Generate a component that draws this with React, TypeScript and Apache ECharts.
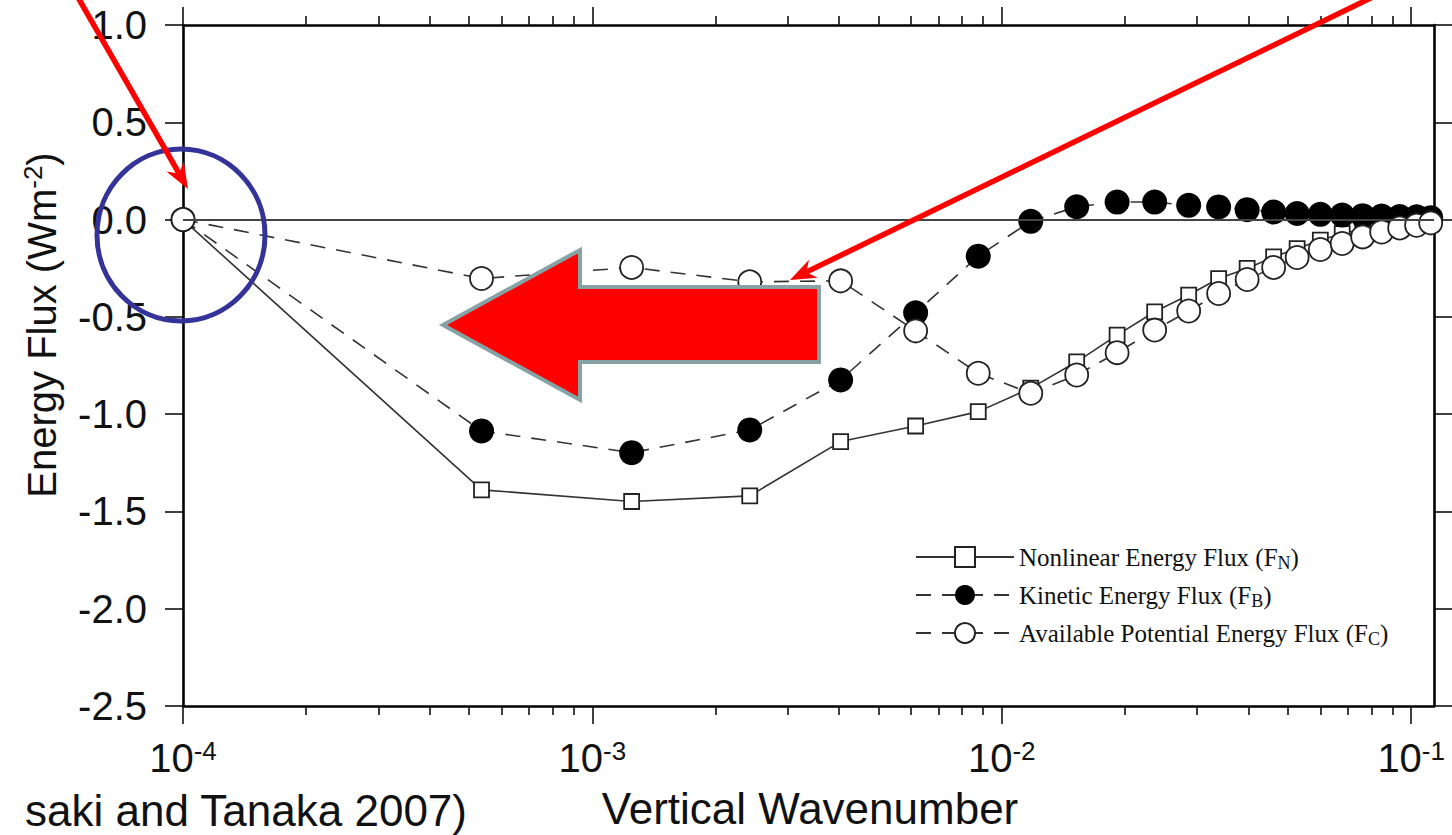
import React, { useEffect, useRef } from 'react';
import * as echarts from 'echarts';

// ---- data ----
const wavenumber = [
  1.0e-4, 5.36e-4, 1.247e-3, 2.423e-3, 4.04e-3, 6.16e-3, 8.76e-3, 1.177e-2,
  1.524e-2, 1.913e-2, 2.363e-2, 2.861e-2, 3.386e-2, 3.975e-2, 4.614e-2, 5.266e-2,
  6.0e-2, 6.785e-2, 7.612e-2, 8.47e-2, 9.374e-2, 1.031e-1, 1.116e-1,
];
const fluxN = [
  0, -1.389, -1.449, -1.42, -1.141, -1.061, -0.987, -0.866,
  -0.731, -0.594, -0.474, -0.388, -0.303, -0.251, -0.192, -0.149,
  -0.106, -0.072, -0.05, -0.034, -0.025, -0.018, -0.012,
];
const fluxB = [
  0, -1.086, -1.198, -1.081, -0.824, -0.479, -0.188, -0.009,
  0.066, 0.09, 0.09, 0.073, 0.065, 0.051, 0.039, 0.031,
  0.027, 0.023, 0.02, 0.018, 0.016, 0.014, 0.01,
];
const fluxC = [
  0, -0.303, -0.246, -0.32, -0.315, -0.572, -0.79, -0.893,
  -0.799, -0.684, -0.568, -0.47, -0.38, -0.308, -0.246, -0.195,
  -0.154, -0.123, -0.089, -0.064, -0.043, -0.029, -0.017,
];
const seriesNames = [
  'Nonlinear Energy Flux (FN)',
  'Kinetic Energy Flux (FB)',
  'Available Potential Energy Flux (FC)',
];
const legendLabels = [
  'Nonlinear Energy Flux (F{s|N})',
  'Kinetic Energy Flux (F{s|B})',
  'Available Potential Energy Flux (F{s|C})',
];
const majorTicks = [1e-4, 1e-3, 1e-2, 1e-1];
const minorTicks = [
  2e-4, 3e-4, 4e-4, 5e-4, 6e-4, 7e-4, 8e-4, 9e-4,
  2e-3, 3e-3, 4e-3, 5e-3, 6e-3, 7e-3, 8e-3, 9e-3,
  2e-2, 3e-2, 4e-2, 5e-2, 6e-2, 7e-2, 8e-2, 9e-2,
];
const xMin = 1e-4;
const xMax = 0.1137;
const yMin = -2.5;
const yMax = 1.0;
const yStep = 0.5;

const SANS = 'Liberation Sans, Arial, sans-serif';
const SERIF = 'Liberation Serif, Times New Roman, serif';

function xAxisDef(position: 'top' | 'bottom', ticks: number[], len: number, showLine: boolean, showLabel: boolean) {
  return {
    type: 'log',
    logBase: 10,
    position,
    min: xMin,
    max: xMax,
    axisLine: { show: showLine, onZero: false, lineStyle: { color: '#000', width: 2.6 } },
    axisTick: {
      show: true,
      inside: false,
      length: len,
      customValues: ticks,
      lineStyle: { color: '#111', width: 1.6 },
    },
    axisLabel: showLabel
      ? {
          show: true,
          customValues: ticks,
          margin: 32,
          formatter: (v: number) => {
            const e = Math.round(Math.log10(v));
            return `{b|10}{s|${e}}`;
          },
          rich: {
            b: { fontSize: 40, fontFamily: SANS, color: '#111', lineHeight: 40 },
            s: { fontSize: 26, fontFamily: SANS, color: '#111', lineHeight: 26, verticalAlign: 'top' },
          },
        }
      : { show: false },
    splitLine: { show: false },
    minorTick: { show: false },
  };
}

function yAxisDef(position: 'left' | 'right', showLabel: boolean) {
  return {
    type: 'value',
    position,
    min: yMin,
    max: yMax,
    interval: yStep,
    axisLine: { show: true, onZero: false, lineStyle: { color: '#000', width: 2.6 } },
    axisTick: { show: true, inside: false, length: 18, lineStyle: { color: '#111', width: 1.6 } },
    axisLabel: showLabel
      ? {
          show: true,
          margin: 36,
          fontSize: 40,
          fontFamily: SANS,
          color: '#111',
          formatter: (v: number) => v.toFixed(1),
        }
      : { show: false },
    splitLine: { show: false },
  };
}

export default function App() {
  const ref = useRef<HTMLDivElement>(null);

  useEffect(() => {
    document.body.style.margin = '0';
    document.body.style.overflow = 'hidden';
    if (!ref.current) return;
    const chart = echarts.init(ref.current, undefined, { renderer: 'svg' });

    const lineColor = '#333';
    const mk = (vals: number[]) => wavenumber.map((x, i) => [x, vals[i]]);

    // annotation arrows geometry
    const arrowHead = (tx: number, ty: number, dx: number, dy: number) => {
      const nx = -dy;
      const ny = dx;
      const bx = tx - 26 * dx;
      const by = ty - 26 * dy;
      return {
        head: [
          [tx, ty],
          [bx + 10 * nx, by + 10 * ny],
          [tx - 18 * dx, ty - 18 * dy],
          [bx - 10 * nx, by - 10 * ny],
        ],
        notch: [tx - 18 * dx, ty - 18 * dy],
      };
    };
    const d1 = [0.498, 0.867];
    const a1 = arrowHead(188, 189, d1[0], d1[1]);
    const d2 = [-0.9, 0.437];
    const a2 = arrowHead(790, 280, d2[0], d2[1]);

    const option: any = {
      animation: false,
      backgroundColor: '#fff',
      grid: { left: 183, right: 18, top: 25, bottom: 129, containLabel: false, outerBoundsMode: 'none' },
      xAxis: [
        xAxisDef('bottom', majorTicks, 18, true, true),
        xAxisDef('bottom', minorTicks, 9, false, false),
        xAxisDef('top', majorTicks, 18, true, false),
        xAxisDef('top', minorTicks, 9, false, false),
      ],
      yAxis: [yAxisDef('left', true), yAxisDef('right', false)],
      legend: {
        orient: 'vertical',
        left: 910,
        top: 537,
        itemWidth: 98,
        itemHeight: 25,
        itemGap: 8,
        selectedMode: false,
        data: seriesNames,
        formatter: (name: string) => legendLabels[seriesNames.indexOf(name)],
        textStyle: {
          fontFamily: SERIF,
          fontSize: 25,
          lineHeight: 30,
          color: '#111',
          rich: {
            s: { fontFamily: SERIF, fontSize: 18, lineHeight: 18, verticalAlign: 'bottom', color: '#111' },
          },
        },
      },
      series: [
        {
          name: seriesNames[0],
          type: 'line',
          xAxisIndex: 0,
          yAxisIndex: 0,
          data: mk(fluxN),
          symbol: 'rect',
          symbolSize: 15,
          lineStyle: { color: lineColor, width: 1.6, type: 'solid' },
          itemStyle: { color: '#fff', borderColor: '#222', borderWidth: 1.8 },
          z: 2,
          markLine: {
            silent: true,
            symbol: ['none', 'none'],
            label: { show: false },
            lineStyle: { color: '#444', width: 1.8, type: 'solid' },
            data: [{ yAxis: 0 }],
          },
        },
        {
          name: seriesNames[1],
          type: 'line',
          xAxisIndex: 0,
          yAxisIndex: 0,
          data: mk(fluxB),
          symbol: 'circle',
          symbolSize: 25,
          lineStyle: { color: lineColor, width: 1.6, type: [15, 11] },
          itemStyle: { color: '#000', borderColor: '#000', borderWidth: 0 },
          z: 3,
        },
        {
          name: seriesNames[2],
          type: 'line',
          xAxisIndex: 0,
          yAxisIndex: 0,
          data: mk(fluxC),
          symbol: 'circle',
          symbolSize: 23,
          lineStyle: { color: lineColor, width: 1.6, type: [15, 11] },
          itemStyle: { color: '#fff', borderColor: '#222', borderWidth: 1.8 },
          z: 4,
        },
      ],
      graphic: [
        {
          type: 'text',
          x: 42,
          y: 325,
          rotation: Math.PI / 2,
          z: 50,
          style: {
            text: 'Energy Flux (Wm{sup|-2})',
            fontSize: 40,
            fontFamily: SANS,
            fill: '#111',
            align: 'center',
            verticalAlign: 'middle',
            lineHeight: 44,
            rich: {
              sup: { fontSize: 26, fontFamily: SANS, fill: '#111', lineHeight: 26, verticalAlign: 'top' },
            },
          },
        },
        {
          type: 'text',
          x: 810,
          y: 808,
          z: 50,
          style: {
            text: 'Vertical Wavenumber',
            fontSize: 44,
            fontFamily: SANS,
            fill: '#111',
            align: 'center',
            verticalAlign: 'middle',
          },
        },
        {
          type: 'text',
          x: 467,
          y: 810,
          z: 50,
          style: {
            text: 'saki and Tanaka 2007)',
            fontSize: 44,
            fontFamily: SANS,
            fill: '#111',
            align: 'right',
            verticalAlign: 'middle',
          },
        },
        {
          type: 'polygon',
          z: 60,
          shape: {
            points: [
              [443, 325],
              [580, 250],
              [580, 287],
              [819, 287],
              [819, 362],
              [580, 362],
              [580, 400],
            ],
          },
          style: { fill: '#ff0000', stroke: '#87a2a4', lineWidth: 4, lineJoin: 'miter' },
        },
        {
          type: 'ellipse',
          z: 60,
          shape: { cx: 181, cy: 235, rx: 84, ry: 86 },
          style: { fill: 'none', stroke: '#333399', lineWidth: 5 },
        },
        {
          type: 'line',
          z: 70,
          shape: { x1: 188 - 230 * d1[0], y1: 189 - 230 * d1[1], x2: a1.notch[0], y2: a1.notch[1] },
          style: { stroke: '#ff0000', lineWidth: 5.5 },
        },
        {
          type: 'polygon',
          z: 70,
          shape: { points: a1.head },
          style: { fill: '#ff0000' },
        },
        {
          type: 'line',
          z: 70,
          shape: { x1: 790 - 700 * d2[0], y1: 280 - 700 * d2[1], x2: a2.notch[0], y2: a2.notch[1] },
          style: { stroke: '#ff0000', lineWidth: 5.5 },
        },
        {
          type: 'polygon',
          z: 70,
          shape: { points: a2.head },
          style: { fill: '#ff0000' },
        },
      ],
    };

    chart.setOption(option);
    return () => chart.dispose();
  }, []);

  return (
    <div
      ref={ref}
      style={{ position: 'fixed', left: 0, top: 0, width: 1452, height: 835, background: '#fff' }}
    />
  );
}
